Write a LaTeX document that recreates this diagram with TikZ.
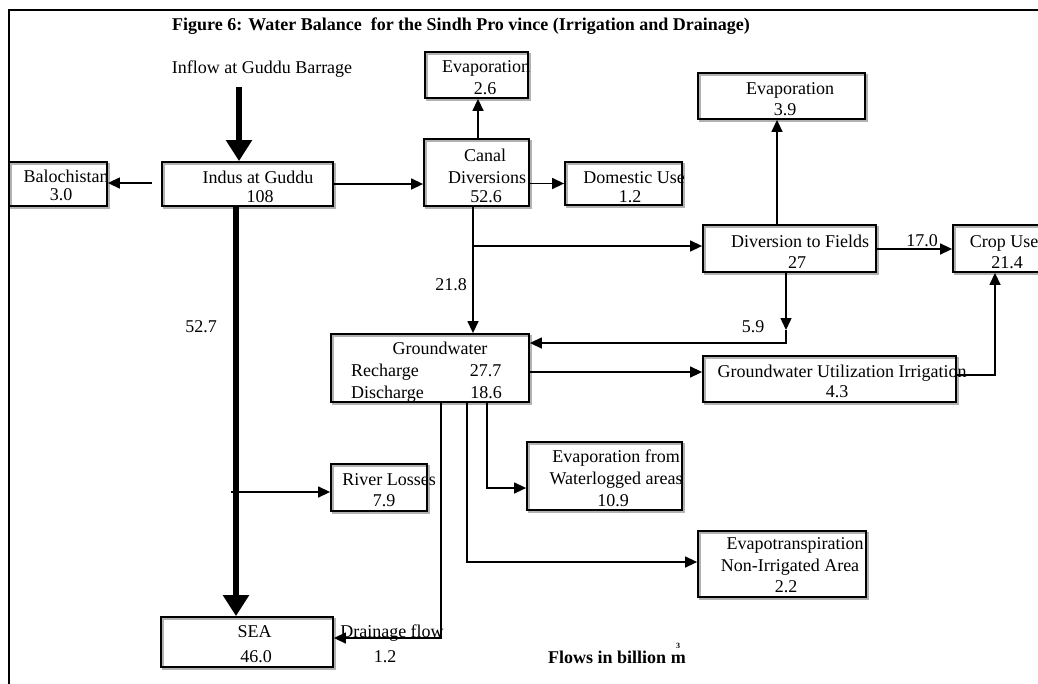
\documentclass[tikz,border=0pt]{standalone}
\usepackage{fontspec}
\setmainfont{Liberation Serif}
\usetikzlibrary{arrows.meta,fit}
\begin{document}
\begin{tikzpicture}[x=1pt,y=-1pt,
  every node/.style={font=\fontsize{18}{18}\selectfont, inner sep=0pt},
  box/.style={draw, line width=1.8pt, inner sep=0pt,
    preaction={draw=black!30, line width=1.8pt, transform canvas={shift={(1.6pt,-1.6pt)}}}},
  t/.style={anchor=base},
  tl/.style={anchor=base west},
  flow/.style={line width=1.4pt, -{Triangle[length=12pt,width=11pt]}},
  big/.style={line width=5.5pt, -{Triangle[length=21pt,width=25pt]}},
  ttl/.style={anchor=base, font=\bfseries\fontsize{18}{18}\selectfont}]
\useasboundingbox (0,0) rectangle (1038,683);
\clip (0,0) rectangle (1038,683);
\fill[white] (0,0) rectangle (1038,683);

% frame
\coordinate (fTL) at (9,10);
\draw[line width=2pt] (9,700) -- (fTL) -- (1050,10);

% title
\node[ttl] (title) at (461,30) {Figure 6: Water Balance\ \ for the Sindh Pro vince (Irrigation and Drainage)};
\node[t] (inflow) at (262,73) {Inflow at Guddu Barrage};

% boxes
\node[box, fit={(9,162)(107,206)}] (bal) {};
\node[box, fit={(162,162)(333,206)}] (indus) {};
\node[box, fit={(424,139)(529,206)}] (canal) {};
\node[box, fit={(425,52)(528,98)}] (evapA) {};
\node[box, fit={(565,162)(682,205)}] (dom) {};
\node[box, fit={(698,73)(865,119)}] (evapB) {};
\node[box, fit={(703,225)(876,272)}] (div) {};
\node[box, fit={(953,225)(1060,272)}] (crop) {};
\node[box, fit={(331,334)(529,402)}] (gw) {};
\node[box, fit={(703,356)(956,402)}] (gwu) {};
\node[box, fit={(527,442)(682,510)}] (ewl) {};
\node[box, fit={(698,531)(866,597)}] (etn) {};
\node[box, fit={(331,464)(427,511)}] (river) {};
\node[box, fit={(161,617)(333,667)}] (sea) {};

% box texts
\node[t] (balA) at (66,182) {Balochistan};
\node[t] (balB) at (61,200) {3.0};
\node[t] (indA) at (258,183) {Indus at Guddu};
\node[t] (indB) at (260,202) {108};
\node[t] (canA) at (485,161) {Canal};
\node[t] (canB) at (487,183) {Diversions};
\node[t] (canC) at (486,202) {52.6};
\node[t] (evAa) at (486,72) {Evaporation};
\node[t] (evAb) at (485,94) {2.6};
\node[t] (domA) at (634,183) {Domestic Use};
\node[t] (domB) at (630,202) {1.2};
\node[t] (evBa) at (790,94) {Evaporation};
\node[t] (evBb) at (785,115) {3.9};
\node[t] (divA) at (800,247) {Diversion to Fields};
\node[t] (divB) at (797,268) {27};
\node[t] (cropA) at (1004,247) {Crop Use};
\node[t] (cropB) at (1007,268) {21.4};
\node[t] (gwA) at (440,354) {Groundwater};
\node[tl] (gwB) at (351,376) {Recharge};
\node[t] (gwC) at (485.5,376) {27.7};
\node[tl] (gwD) at (351,398) {Discharge};
\node[t] (gwE) at (486,398) {18.6};
\node[t] (gwuA) at (842,377) {Groundwater Utilization Irrigation};
\node[t] (gwuB) at (837,397) {4.3};
\node[t] (rivA) at (389,485) {River Losses};
\node[t] (rivB) at (384,506) {7.9};
\node[t] (ewlA) at (616,462) {Evaporation from};
\node[t] (ewlB) at (616,484) {Waterlogged areas};
\node[t] (ewlC) at (613,506) {10.9};
\node[t] (etnA) at (795,549) {Evapotranspiration};
\node[t] (etnB) at (790,571) {Non-Irrigated Area};
\node[t] (etnC) at (786,592) {2.2};
\node[t] (seaA) at (254.5,637) {SEA};
\node[t] (seaB) at (256,662) {46.0};

% flow labels
\node[t] (l527) at (201,332) {52.7};
\node[t] (l218) at (451,290) {21.8};
\node[t] (l59) at (753,332) {5.9};
\node[t] (l170) at (922,246) {17.0};
\node[t] (ldr) at (392,637) {Drainage flow};
\node[t] (ldr2) at (385,662) {1.2};
\node[tl, font=\bfseries\fontsize{18}{18}\selectfont] (units) at (548,663) {Flows in billion m};
\node[t, font=\bfseries\fontsize{8}{8}\selectfont] (units3) at (678,648) {3};

% connectors
\coordinate (inTop) at (239,87);
\draw[big] (inTop) -- (inTop |- indus.north);
\coordinate (mx) at (236,206);
\draw[big] (indus.south -| mx) -- (sea.north -| mx);

\coordinate (balStart) at (152,183);
\draw[flow] (balStart) -- (bal.east |- balStart);
\draw[flow] (indus.east) -- (canal.west |- indus.east);

\coordinate (ceX) at (478,100);
\draw[flow] (canal.north -| ceX) -- (evapA.south -| ceX);
\draw[flow] (canal.east |- dom.west) -- (dom.west);

\coordinate (cgX) at (473,246);
\draw[flow] (canal.south -| cgX) -- (gw.north -| cgX);
\draw[flow] (cgX) -- (div.west |- cgX);

\coordinate (deX) at (777,200);
\draw[flow] (div.north -| deX) -- (evapB.south -| deX);

\coordinate (dcY) at (900,249);
\draw[flow] (div.east |- dcY) -- (crop.west |- dcY);

\coordinate (dgMid) at (786,330);
\coordinate (dgBend) at (786,343);
\draw[flow] (div.south -| dgMid) -- (dgMid);
\draw[flow] (dgMid) -- (dgBend) -- (gw.east |- dgBend);

\coordinate (ggY) at (600,372);
\draw[flow] (gw.east |- ggY) -- (gwu.west |- ggY);

\coordinate (gcB) at (995,375);
\draw[flow] (gwu.east |- gcB) -- (gcB) -- (crop.south -| gcB);

\coordinate (g1) at (487,488);
\draw[flow] (gw.south -| g1) -- (g1) -- (ewl.west |- g1);
\coordinate (g2) at (467,562);
\draw[flow] (gw.south -| g2) -- (g2) -- (etn.west |- g2);
\coordinate (g3) at (441,638);
\draw[flow] (gw.south -| g3) -- (g3) -- (sea.east |- g3);

\coordinate (rv) at (231,492);
\draw[flow] (rv) -- (river.west |- rv);
\end{tikzpicture}
\end{document}
